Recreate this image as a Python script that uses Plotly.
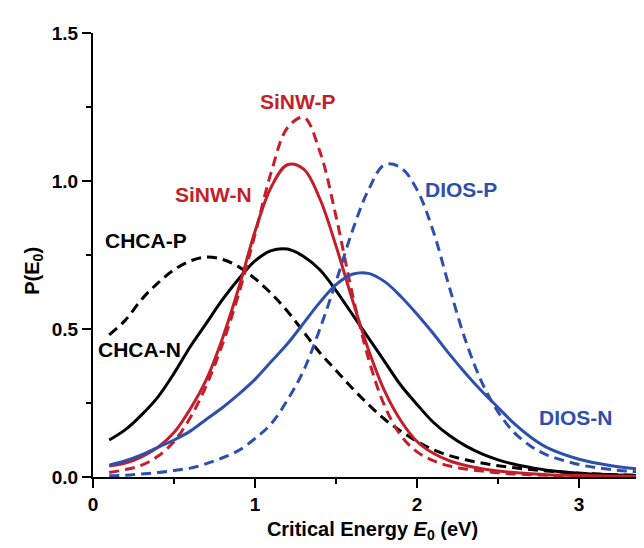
import plotly.graph_objects as go

energy = [0.1, 0.2, 0.3, 0.4, 0.5, 0.6, 0.7, 0.8, 0.9, 1.0, 1.1, 1.2, 1.3, 1.4, 1.5,
          1.6, 1.7, 1.8, 1.9, 2.0, 2.1, 2.2, 2.3, 2.4, 2.5, 2.6, 2.7, 2.8, 3.0, 3.2, 3.45]

chca_n = [0.125, 0.16, 0.21, 0.27, 0.35, 0.44, 0.52, 0.60, 0.67, 0.73, 0.765, 0.77, 0.745, 0.70, 0.63,
          0.55, 0.47, 0.39, 0.31, 0.245, 0.185, 0.14, 0.105, 0.078, 0.058, 0.043, 0.032, 0.023, 0.013, 0.008, 0.004]
chca_p = [0.48, 0.53, 0.60, 0.655, 0.70, 0.73, 0.743, 0.735, 0.71, 0.67, 0.62, 0.56, 0.49, 0.42, 0.36,
          0.30, 0.245, 0.195, 0.155, 0.12, 0.092, 0.072, 0.058, 0.047, 0.038, 0.031, 0.025, 0.02, 0.013, 0.008, 0.004]
sinw_n = [0.037, 0.047, 0.068, 0.10, 0.15, 0.23, 0.33, 0.47, 0.64, 0.83, 0.98, 1.055, 1.04, 0.94, 0.78,
          0.60, 0.43, 0.29, 0.19, 0.12, 0.08, 0.055, 0.039, 0.028, 0.02, 0.015, 0.011, 0.008, 0.005, 0.003, 0.002]
sinw_p = [0.015, 0.025, 0.04, 0.07, 0.12, 0.20, 0.31, 0.45, 0.62, 0.82, 1.03, 1.18, 1.215, 1.10, 0.88,
          0.62, 0.40, 0.24, 0.14, 0.085, 0.055, 0.037, 0.027, 0.02, 0.014, 0.01, 0.008, 0.006, 0.003, 0.002, 0.001]
dios_n = [0.04, 0.055, 0.075, 0.10, 0.125, 0.155, 0.195, 0.235, 0.28, 0.33, 0.39, 0.45, 0.52, 0.59, 0.65,
          0.685, 0.688, 0.66, 0.61, 0.55, 0.485, 0.415, 0.35, 0.29, 0.235, 0.18, 0.135, 0.10, 0.06, 0.038, 0.022]
dios_p = [0.004, 0.006, 0.01, 0.015, 0.022, 0.03, 0.045, 0.065, 0.09, 0.13, 0.18, 0.26, 0.36, 0.50, 0.66,
          0.83, 0.97, 1.055, 1.045, 0.97, 0.83, 0.64, 0.46, 0.32, 0.22, 0.15, 0.105, 0.075, 0.042, 0.025, 0.014]

series_names = ["CHCA-N", "CHCA-P", "SiNW-N", "SiNW-P", "DIOS-N", "DIOS-P"]
series_values = [chca_n, chca_p, sinw_n, sinw_p, dios_n, dios_p]

# label positions (data coords) for in-plot labels
label_x = [0.29, 0.33, 0.745, 1.265, 2.98, 2.27]
label_y = [0.43, 0.80, 0.953, 1.27, 0.20, 0.97]

BLACK = "#000000"
RED = "#c41e2a"
BLUE = "#2f4fad"
styles = {
    "CHCA-N": (BLACK, "solid"),
    "CHCA-P": (BLACK, "10px,6px"),
    "SiNW-N": (RED, "solid"),
    "SiNW-P": (RED, "10px,6px"),
    "DIOS-N": (BLUE, "solid"),
    "DIOS-P": (BLUE, "10px,6px"),
}

fig = go.Figure()
for name, vals in zip(series_names, series_values):
    color, dash = styles[name]
    fig.add_trace(go.Scatter(
        x=energy, y=vals, mode="lines", name=name,
        line=dict(color=color, width=3, dash=dash, shape="spline", smoothing=1.0),
        showlegend=False,
    ))

FONT = "Liberation Sans"
for name, lx, ly in zip(series_names, label_x, label_y):
    color, _ = styles[name]
    fig.add_annotation(x=lx, y=ly, text="<b>%s</b>" % name, showarrow=False,
                       font=dict(size=21, color=color, family=FONT),
                       xanchor="center", yanchor="middle")

# y-axis title as rotated text (sits slightly below the axis centre in the reference)
fig.add_annotation(xref="paper", yref="paper", x=-0.107, y=0.465,
                   text="<b>P(E<sub>0</sub>)</b>", textangle=-90, showarrow=False,
                   font=dict(size=20, family=FONT, color="black"),
                   xanchor="center", yanchor="middle")

fig.update_layout(
    width=644, height=548,
    margin=dict(l=85, r=0, t=25, b=79),
    paper_bgcolor="white", plot_bgcolor="white",
    font=dict(family=FONT, color="black"),
    xaxis=dict(
        range=[0, 3.45], tickvals=[0, 1, 2, 3], ticktext=["0", "1", "2", "3"],
        ticks="outside", ticklen=9, tickwidth=2, tickcolor="black",
        minor=dict(dtick=0.5, tick0=0, ticks="outside", ticklen=5, tickwidth=2, tickcolor="black", showgrid=False),
        showline=True, linewidth=2, linecolor="black",
        showgrid=False, zeroline=False,
        tickfont=dict(size=19, family=FONT, weight="bold"),
        title=dict(text="<b>Critical Energy <i>E</i><sub>0</sub> (eV)</b>",
                   font=dict(size=20, family=FONT), standoff=8),
    ),
    yaxis=dict(
        range=[0, 1.5], tickvals=[0, 0.5, 1.0, 1.5], ticktext=["0.0", "0.5", "1.0", "1.5"],
        ticks="outside", ticklen=9, tickwidth=2, tickcolor="black",
        minor=dict(dtick=0.25, tick0=0, ticks="outside", ticklen=5, tickwidth=2, tickcolor="black", showgrid=False),
        showline=True, linewidth=2, linecolor="black",
        showgrid=False, zeroline=False,
        tickfont=dict(size=19, family=FONT, weight="bold"),
    ),
)

fig.write_html("out.html")
